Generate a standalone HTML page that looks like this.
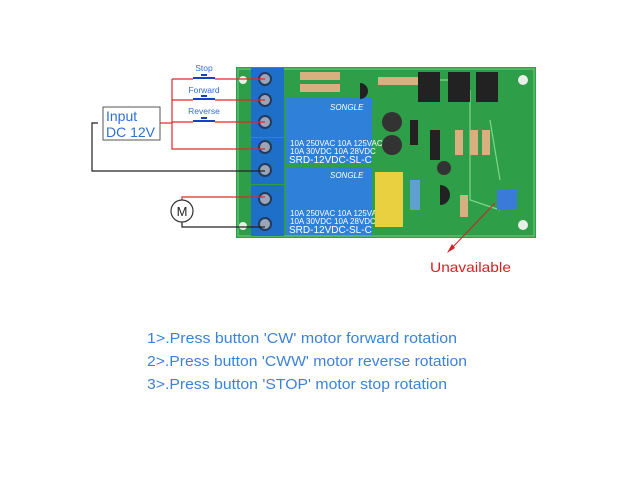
<!DOCTYPE html>
<html><head><meta charset="utf-8"><style>
html,body{margin:0;padding:0;background:#fff;width:640px;height:480px;overflow:hidden}
</style></head><body>
<svg width="640" height="480" xmlns="http://www.w3.org/2000/svg" font-family="Liberation Sans, sans-serif">
<rect x="236" y="67" width="300" height="171" fill="#2e9e48"/>
<rect x="238" y="69" width="296" height="167" fill="none" stroke="#6fcf80" stroke-width="1"/>
<circle cx="523" cy="80" r="5" fill="#e8efe8"/><circle cx="523" cy="225" r="5" fill="#e8efe8"/>
<circle cx="243" cy="80" r="4" fill="#e8efe8"/><circle cx="243" cy="226" r="4" fill="#e8efe8"/>
<g stroke="#7ed88c" stroke-width="1.2" fill="none">
<path d="M470 90 L470 200 L500 210"/><path d="M490 120 L500 180"/><path d="M380 80 L460 80"/>
</g>
<rect x="251" y="68" width="33" height="69" fill="#1e6fc8"/>
<rect x="251" y="138" width="33" height="46" fill="#1e6fc8"/>
<rect x="251" y="185" width="33" height="51" fill="#1e6fc8"/>
<g fill="#9aa6b8" stroke="#243a5c" stroke-width="2">
<circle cx="265" cy="79" r="6"/><circle cx="265" cy="100" r="6"/><circle cx="265" cy="122" r="6"/>
<circle cx="265" cy="147" r="6"/><circle cx="265" cy="170" r="6"/><circle cx="265" cy="199" r="6"/><circle cx="265" cy="224" r="6"/>
</g>
<rect x="286" y="97" width="86" height="67" fill="#2f80d8"/>
<rect x="286" y="167" width="86" height="68" fill="#2f80d8"/>
<g fill="#fff" font-size="8">
<text x="330" y="110" font-style="italic">SONGLE</text>
<text x="290" y="146">10A 250VAC  10A 125VAC</text>
<text x="290" y="154">10A 30VDC  10A 28VDC</text>
<text x="289" y="163" font-size="10">SRD-12VDC-SL-C</text>
<text x="330" y="178" font-style="italic">SONGLE</text>
<text x="290" y="216">10A 250VAC  10A 125VAC</text>
<text x="290" y="224">10A 30VDC  10A 28VDC</text>
<text x="289" y="233" font-size="10">SRD-12VDC-SL-C</text>
</g>
<rect x="375" y="172" width="28" height="55" fill="#e8d040"/>
<rect x="418" y="72" width="22" height="30" fill="#222"/><rect x="448" y="72" width="22" height="30" fill="#222"/><rect x="476" y="72" width="22" height="30" fill="#222"/>
<circle cx="392" cy="122" r="10" fill="#333"/><circle cx="392" cy="145" r="10" fill="#333"/>
<circle cx="444" cy="168" r="7" fill="#333"/>
<rect x="430" y="130" width="10" height="30" fill="#222"/><rect x="410" y="120" width="8" height="25" fill="#222"/>
<rect x="455" y="130" width="8" height="25" fill="#d8b080"/><rect x="470" y="130" width="8" height="25" fill="#d8b080"/><rect x="482" y="130" width="8" height="25" fill="#d8b080"/>
<rect x="300" y="72" width="40" height="8" fill="#d8b080"/><rect x="300" y="84" width="40" height="8" fill="#d8b080"/>
<rect x="378" y="77" width="40" height="8" fill="#d8b080"/>
<rect x="410" y="180" width="10" height="30" fill="#60a0d0"/>
<path d="M440 185 a10 10 0 0 1 0 20 z" fill="#222"/><path d="M360 83 a8 8 0 0 1 0 16 z" fill="#222"/>
<rect x="497" y="190" width="20" height="20" fill="#3a7ad8"/>
<rect x="460" y="195" width="8" height="22" fill="#d8b080"/>
<g stroke="#e02828" stroke-width="1.2" fill="none">
<path d="M160 123 L172 123"/>
<path d="M172 79 L172 149 L265 149"/>
<path d="M172 79 L193 79 M215 79 L265 79"/>
<path d="M172 100 L193 100 M215 100 L265 100"/>
<path d="M172 122 L193 122 M215 122 L265 122"/>
<path d="M182 211 L182 197 L265 197"/>
</g>
<g stroke="#222" stroke-width="1.2" fill="none">
<path d="M98 123 L92 123 L92 171 L265 171"/>
<path d="M182 221 L182 227 L265 227"/>
</g>
<g stroke="#1a3fc0" stroke-width="2" fill="#1a3fc0">
<path d="M193 78 L215 78 M201 75 L207 75"/><path d="M193 99 L215 99 M201 96 L207 96"/><path d="M193 121 L215 121 M201 118 L207 118"/>
</g>
<g fill="#2f6fd8" font-size="8.5" text-anchor="middle">
<text x="204" y="71">Stop</text><text x="204" y="93">Forward</text><text x="204" y="114">Reverse</text>
</g>
<rect x="103" y="107" width="57" height="33" fill="#fff" stroke="#555" stroke-width="1"/>
<g fill="#2f6fd8" font-size="14"><text x="106" y="121">Input</text><text x="106" y="137">DC 12V</text></g>
<circle cx="182" cy="211" r="11" fill="#fff" stroke="#333" stroke-width="1.2"/>
<text x="182" y="216" font-size="13" text-anchor="middle" fill="#222">M</text>
<path d="M495 203 L450 250" stroke="#d02020" stroke-width="1"/>
<path d="M447 253 L452 244 L455 248 Z" fill="#d02020"/>
<text x="430" y="272" font-size="14" fill="#d82020" textLength="81" lengthAdjust="spacingAndGlyphs">Unavailable</text>
<g fill="#3c82d8" font-size="15">
<text x="147" y="343" textLength="310" lengthAdjust="spacingAndGlyphs">1&gt;.Press button 'CW' motor forward rotation</text>
<text x="147" y="366" textLength="320" lengthAdjust="spacingAndGlyphs">2&gt;.Press button 'CWW' motor reverse rotation</text>
<text x="147" y="389" textLength="300" lengthAdjust="spacingAndGlyphs">3&gt;.Press button 'STOP' motor stop rotation</text>
</g>
</svg>
</body></html>
